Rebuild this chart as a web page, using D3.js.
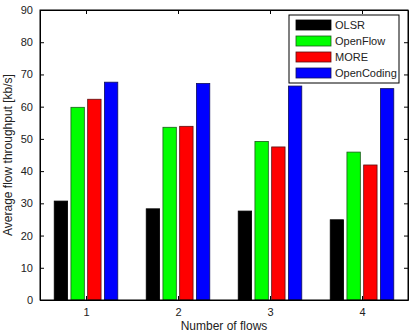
<!DOCTYPE html>
<meta charset="utf-8">
<head>
    <script src="https://d3js.org/d3.v7.min.js"></script>
</head>
<style>
    body { margin: 0; background: #fff; }
    text { font-family: "Liberation Sans", Arial, sans-serif; fill: #222; }
</style>
<body>
<div id="chart"></div>
<script>
    // data
    const flows = [1, 2, 3, 4];
    const seriesNames = ["OLSR", "OpenFlow", "MORE", "OpenCoding"];
    const olsr = [30.7, 28.3, 27.6, 24.9];
    const openFlow = [59.8, 53.6, 49.2, 45.9];
    const more = [62.3, 53.9, 47.5, 41.9];
    const openCoding = [67.6, 67.2, 66.4, 65.6];
    const yTicks = [0, 10, 20, 30, 40, 50, 60, 70, 80, 90];

    const colors = ["#000000", "#00ff00", "#ff0000", "#0000ff"];
    const edges = ["#000000", "#1a5a1a", "#5a1010", "#10105a"];
    const values = [olsr, openFlow, more, openCoding];

    const W = 413, H = 334;
    const margin = { top: 10, right: 5, bottom: 34, left: 40 };
    const width = 408 - margin.left, height = 300 - margin.top;

    const svg = d3.select("#chart").append("svg")
        .attr("width", W).attr("height", H)
        .append("g")
        .attr("transform", `translate(${margin.left},${margin.top})`);

    // linear x like matlab: xlim [0.5, 4.5]
    const x = d3.scaleLinear().domain([0.5, 4.5]).range([0, width]);
    const y = d3.scaleLinear().domain([0, 90]).range([height, 0]);

    // grouped bar geometry (matlab style)
    const groupW = 4 / 5.5;
    const step = groupW / 4;
    const barW = step * 0.8;

    seriesNames.forEach(function (name, i) {
        svg.append("g")
            .selectAll("rect")
            .data(values[i])
            .join("rect")
            .attr("x", (d, j) => x(flows[j] - groupW / 2 + step * i + (step - barW) / 2))
            .attr("width", x(barW) - x(0))
            .attr("y", d => y(d))
            .attr("height", d => y(0) - y(d))
            .attr("fill", colors[i])
            .attr("stroke", edges[i])
            .attr("stroke-width", 0.8);
    });

    // axes with inward ticks
    const tickLen = 4;
    svg.append("g")
        .attr("transform", `translate(0,${height})`)
        .call(d3.axisBottom(x).tickValues(flows).tickFormat(d3.format("d")).tickSize(-tickLen).tickPadding(8).tickSizeOuter(0))
        .call(g => g.selectAll("text").attr("font-size", 11));
    svg.append("g")
        .call(d3.axisTop(x).tickValues(flows).tickSize(-tickLen).tickFormat("").tickSizeOuter(0));
    svg.append("g")
        .call(d3.axisLeft(y).tickValues(yTicks).tickSize(-tickLen).tickPadding(7).tickSizeOuter(0))
        .call(g => g.selectAll("text").attr("font-size", 11));
    svg.append("g")
        .attr("transform", `translate(${width},0)`)
        .call(d3.axisRight(y).tickValues(yTicks).tickSize(-tickLen).tickFormat("").tickSizeOuter(0));

    svg.selectAll(".domain").attr("stroke", "#000");
    svg.selectAll(".tick line").attr("stroke", "#000");
    svg.append("rect")
        .attr("width", width).attr("height", height)
        .attr("fill", "none").attr("stroke", "#000").attr("stroke-width", 1);

    // axis labels
    svg.append("text")
        .attr("x", width / 2).attr("y", height + 30)
        .attr("text-anchor", "middle").attr("font-size", 12)
        .text("Number of flows");
    svg.append("text")
        .attr("transform", `translate(${-28},${height / 2}) rotate(-90)`)
        .attr("text-anchor", "middle").attr("font-size", 12)
        .text("Average flow throughput [kb/s]");

    // legend
    const lg = svg.append("g").attr("transform", `translate(${289 - margin.left},${15 - margin.top})`);
    lg.append("rect")
        .attr("width", 110).attr("height", 68)
        .attr("fill", "#fff").attr("stroke", "#000");
    seriesNames.forEach(function (name, i) {
        const row = lg.append("g").attr("transform", `translate(0,${10 + i * 16})`);
        row.append("rect")
            .attr("x", 7).attr("y", -5).attr("width", 35).attr("height", 10)
            .attr("fill", colors[i]).attr("stroke", edges[i]).attr("stroke-width", 0.8);
        row.append("text")
            .attr("x", 46).attr("y", 4)
            .attr("font-size", 11)
            .text(name);
    });
</script>
</body>
</html>
